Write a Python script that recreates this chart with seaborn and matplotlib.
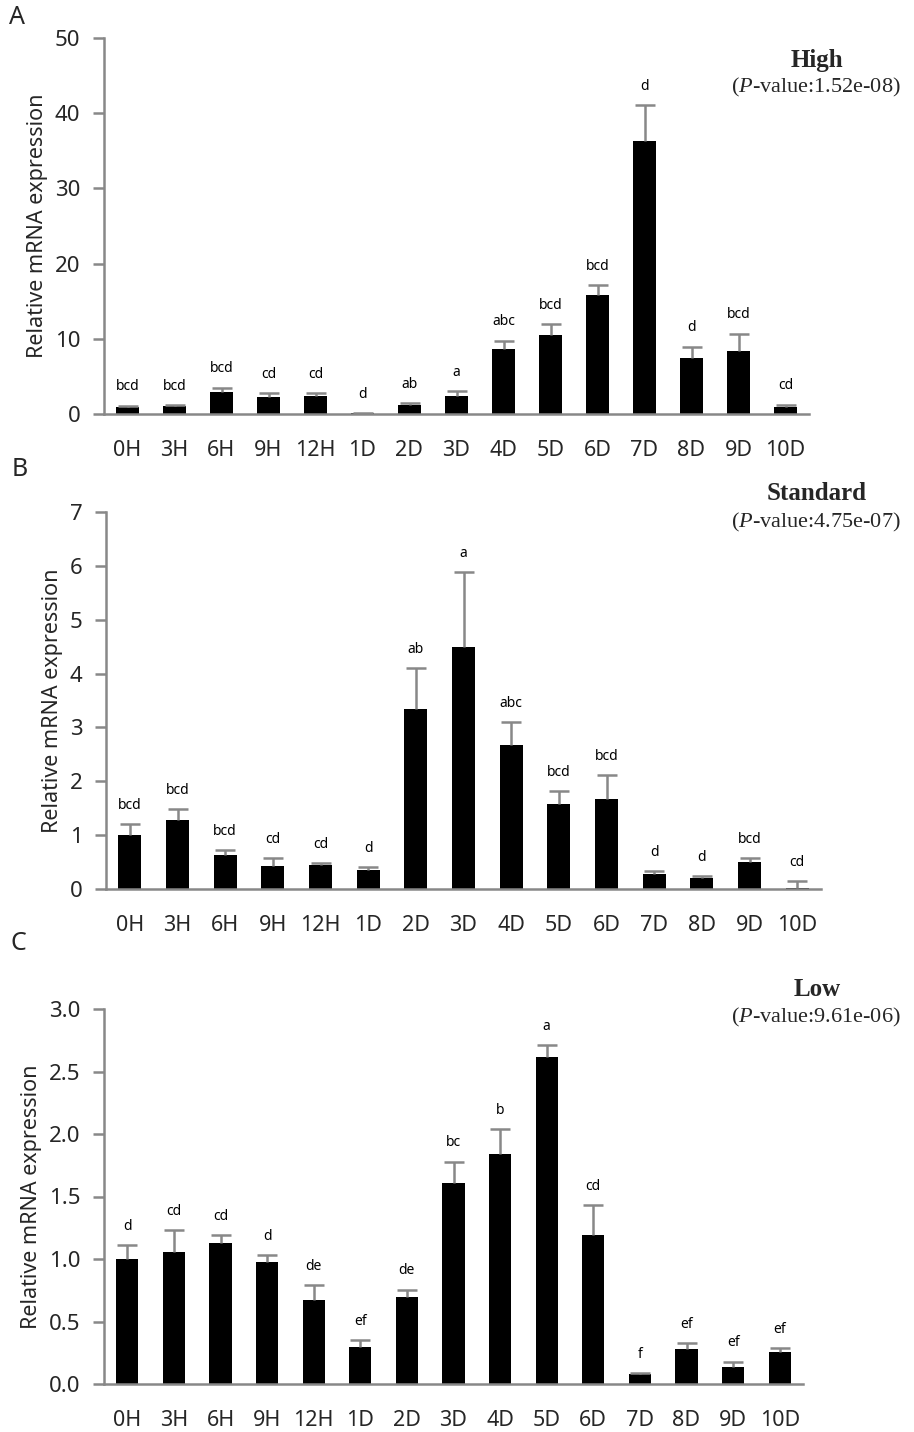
import numpy as np
import pandas as pd
import seaborn as sns
import matplotlib
matplotlib.use("Agg")
import matplotlib.pyplot as plt
from matplotlib.ticker import MultipleLocator, FixedLocator

categories = ["0H", "3H", "6H", "9H", "12H", "1D", "2D", "3D", "4D", "5D", "6D", "7D", "8D", "9D", "10D"]

high_mean = [0.95, 1.0, 2.9, 2.3, 2.4, 0.1, 1.2, 2.4, 8.7, 10.5, 15.8, 36.3, 7.5, 8.4, 0.95]
high_err = [0.15, 0.2, 0.6, 0.5, 0.4, 0.05, 0.2, 0.6, 1.05, 1.5, 1.3, 4.8, 1.45, 2.3, 0.3]
high_letters = ["bcd", "bcd", "bcd", "cd", "cd", "d", "ab", "a", "abc", "bcd", "bcd", "d", "d", "bcd", "cd"]

std_mean = [1.0, 1.28, 0.64, 0.42, 0.44, 0.35, 3.35, 4.49, 2.68, 1.57, 1.67, 0.285, 0.2, 0.5, 0.01]
std_err = [0.21, 0.21, 0.08, 0.16, 0.04, 0.05, 0.75, 1.4, 0.42, 0.25, 0.45, 0.045, 0.035, 0.08, 0.14]
std_letters = ["bcd", "bcd", "bcd", "cd", "cd", "d", "ab", "a", "abc", "bcd", "bcd", "d", "d", "bcd", "cd"]

low_mean = [1.0, 1.06, 1.13, 0.98, 0.67, 0.30, 0.70, 1.61, 1.84, 2.62, 1.19, 0.083, 0.28, 0.139, 0.256]
low_err = [0.11, 0.17, 0.06, 0.05, 0.12, 0.05, 0.055, 0.17, 0.20, 0.09, 0.24, 0.005, 0.05, 0.04, 0.03]
low_letters = ["d", "cd", "cd", "d", "de", "ef", "de", "bc", "b", "a", "cd", "f", "ef", "ef", "ef"]

panels = [
    ("A", "High", "1.52e-08", high_mean, high_err, high_letters, 50, 10, "{:.0f}"),
    ("B", "Standard", "4.75e-07", std_mean, std_err, std_letters, 7, 1, "{:.0f}"),
    ("C", "Low", "9.61e-06", low_mean, low_err, low_letters, 3.0, 0.5, "{:.1f}"),
]

sns.set_style("white")
plt.rcParams["font.family"] = ["Noto Sans", "DejaVu Sans"]
plt.rcParams["mathtext.fontset"] = "custom"
plt.rcParams["mathtext.rm"] = "Liberation Serif"
plt.rcParams["mathtext.it"] = "Liberation Serif:italic"

W, H = 914, 1432
fig = plt.figure(figsize=(W / 100, H / 100), dpi=100)

# axes rectangles in pixels: left, right, top, bottom
rects = [(104, 809, 38, 414), (106, 821, 512, 889), (104, 803, 1009, 1384)]
letter_pos = [(17, 17), (20, 470), (18, 943)]
title_y = [(60, 87), (494, 522), (990, 1017)]

grey = "#888888"

for (letter, name, pval, mean, err, letters, ymax, ystep, fmt), (l, r, t, b), (lx, ly), (ty1, ty2) in zip(
        panels, rects, letter_pos, title_y):
    ax = fig.add_axes([l / W, 1 - b / H, (r - l) / W, (b - t) / H])
    df = pd.DataFrame({"time": categories, "value": mean})
    sns.barplot(data=df, x="time", y="value", color="black", width=0.48,
                saturation=1, ax=ax, errorbar=None, edgecolor="black", linewidth=0)
    x = np.arange(len(categories))
    eb = ax.errorbar(x, mean, yerr=[np.zeros(len(err)), err], fmt="none",
                     ecolor=grey, elinewidth=1.8, capsize=7, capthick=1.8)
    caps = eb.lines[1]
    if len(caps) > 0:
        caps[0].set_visible(False)
    for xi, m, e, s in zip(x, mean, err, letters):
        ax.annotate(s, (xi, m + e), xytext=(0, 13.5), textcoords="offset points",
                    ha="center", va="center", fontsize=10, color="black")
    ax.set_xlim(-0.5, len(categories) - 0.5)
    ax.set_ylim(0, ymax)
    ax.yaxis.set_major_locator(MultipleLocator(ystep))
    ax.set_yticklabels([fmt.format(v) for v in ax.get_yticks()])
    ax.xaxis.set_minor_locator(FixedLocator(np.arange(-0.5, len(categories), 1.0)))
    ax.tick_params(axis="x", which="major", length=0, pad=19, labelsize=15.5)
    ax.tick_params(axis="x", which="minor", length=8, width=1.8, color=grey, direction="out")
    ax.tick_params(axis="y", which="major", length=8, width=1.8, color=grey, direction="out",
                   pad=9, labelsize=16, left=True)
    for side in ["top", "right"]:
        ax.spines[side].set_visible(False)
    for side in ["left", "bottom"]:
        ax.spines[side].set_color(grey)
        ax.spines[side].set_linewidth(1.8)
    ax.set_xlabel("")
    ax.set_ylabel("Relative mRNA expression", fontsize=15.5, labelpad=5)
    ax.set_facecolor("white")

    fig.text(lx / W, 1 - ly / H, letter, fontsize=18, ha="center", va="center")
    fig.text(817 / W, 1 - ty1 / H, name, fontsize=18, fontweight="bold",
             family="Liberation Serif", ha="center", va="center")
    fig.text(816 / W, 1 - ty2 / H, r"($\it{P}$-value:" + pval + ")", fontsize=16,
             family="Liberation Serif", ha="center", va="center")

fig.savefig("out.png", dpi=100, facecolor="white")
